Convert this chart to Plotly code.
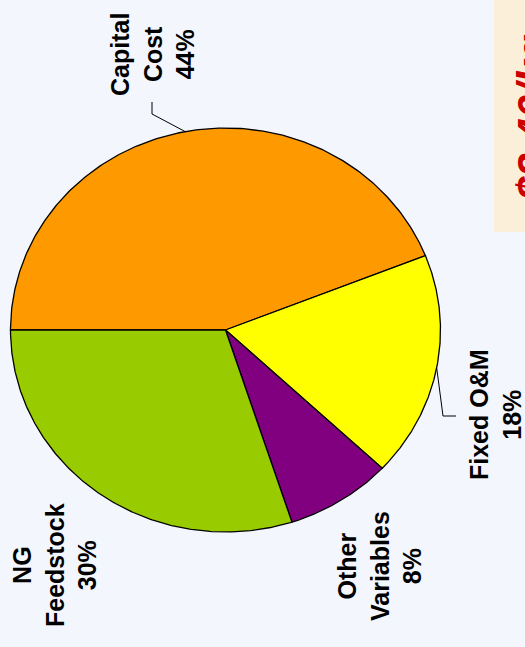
import numpy as np
import plotly.graph_objects as go

# Cost breakdown (percent of total)
labels = ["Capital<br>Cost", "Fixed O&M", "Other<br>Variables", "NG<br>Feedstock"]
shares = [44, 18, 8, 30]
colors = ["#FF9900", "#FFFF00", "#800080", "#99CC00"]
price_label = "$2.40/kg"

# Canvas and pie geometry (pixels)
W, H = 525, 647
CX, CY = 225.5, 330.0
RX, RY = 215.0, 202.0
START_DEG = 180.0

# Label block centres (pixels) for each slice
label_pos = [(153, 55), (495, 415), (379, 566), (54, 565)]


def to_data(x, y):
    """Pixel position -> axis units (unit circle = pie edge)."""
    return (x - CX) / RX, (CY - y) / RY


def to_paper(x, y):
    return x / W, 1 - y / H


fig = go.Figure()

total = float(sum(shares))
cum = 0.0
mid_angles = []
for name, val, col in zip(labels, shares, colors):
    a0 = START_DEG - 360.0 * cum / total
    a1 = START_DEG - 360.0 * (cum + val) / total
    t = np.radians(np.linspace(a0, a1, 240))
    xs = np.concatenate([[0.0], np.cos(t), [0.0]])
    ys = np.concatenate([[0.0], np.sin(t), [0.0]])
    fig.add_trace(go.Scatter(
        x=xs, y=ys, mode="lines", fill="toself", fillcolor=col,
        line=dict(color="black", width=1.3), hoverinfo="skip",
        showlegend=False))
    mid_angles.append(np.radians((a0 + a1) / 2.0))
    cum += val

# Leader lines from slice edge to the label
leaders = {0: [(152, 114), (152, 102)], 1: [(443, 416), (456, 416)]}
for idx, pts in leaders.items():
    a = mid_angles[idx]
    lx = [np.cos(a)] + [to_data(*p)[0] for p in pts]
    ly = [np.sin(a)] + [to_data(*p)[1] for p in pts]
    fig.add_trace(go.Scatter(x=lx, y=ly, mode="lines",
                             line=dict(color="black", width=1),
                             hoverinfo="skip", showlegend=False))

annotations = []
for name, val, (px_, py_) in zip(labels, shares, label_pos):
    ax, ay = to_paper(px_, py_)
    annotations.append(dict(
        x=ax, y=ay, xref="paper", yref="paper", showarrow=False,
        text=f"{name}<br>{val}%", textangle=-90, align="center",
        xanchor="center", yanchor="middle",
        font=dict(family="Liberation Sans, Arial, sans-serif", size=25,
                  color="black", weight="bold")))

# Price callout running off the right edge
bx, by = to_paper(532, 118)
annotations.append(dict(
    x=bx, y=by, xref="paper", yref="paper", showarrow=False,
    text=price_label, textangle=-90, xanchor="center", yanchor="middle",
    font=dict(family="Liberation Sans, Arial, sans-serif", size=42,
              color="#CC0000", weight="bold", style="italic")))

x0p, y0p = to_paper(494, 232)
shapes = [dict(type="rect", xref="paper", yref="paper", x0=x0p, x1=1.0,
               y0=y0p, y1=1.0, fillcolor="#FCEFD9", line=dict(width=0),
               layer="below")]

xr = [to_data(0, 0)[0], to_data(W, 0)[0]]
yr = [to_data(0, H)[1], to_data(0, 0)[1]]

fig.update_layout(
    width=W, height=H, margin=dict(l=0, r=0, t=0, b=0),
    paper_bgcolor="#F3F6FC", plot_bgcolor="rgba(0,0,0,0)",
    xaxis=dict(range=xr, visible=False, fixedrange=True),
    yaxis=dict(range=yr, visible=False, fixedrange=True),
    annotations=annotations, shapes=shapes, showlegend=False)

fig.write_html("out.html")
